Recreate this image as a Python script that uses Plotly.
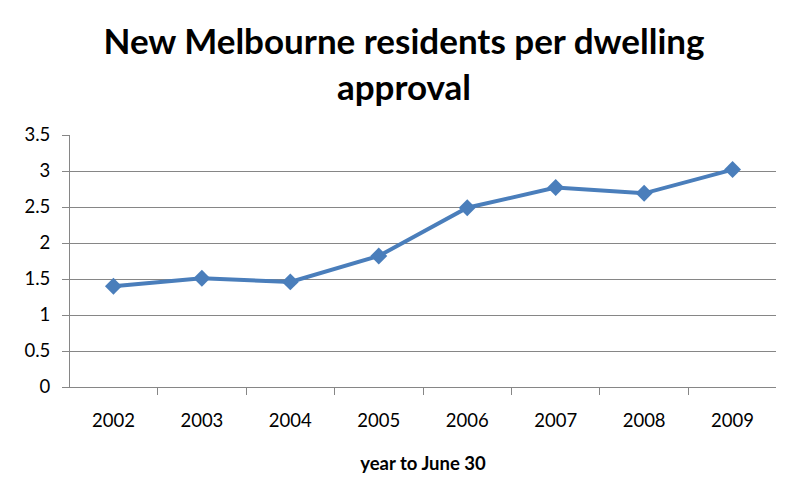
import plotly.graph_objects as go

years = ["2002", "2003", "2004", "2005", "2006", "2007", "2008", "2009"]
residents_per_approval = [1.40, 1.51, 1.46, 1.82, 2.49, 2.77, 2.69, 3.02]
y_ticks = [0, 0.5, 1, 1.5, 2, 2.5, 3, 3.5]
y_tick_labels = ["0", "0.5", "1", "1.5", "2", "2.5", "3", "3.5"]

fig = go.Figure()
fig.add_trace(go.Scatter(
    x=years, y=residents_per_approval, mode="lines+markers",
    line=dict(color="#4a7ebb", width=4),
    marker=dict(symbol="diamond", size=13, color="#4a7ebb"),
    showlegend=False,
))

# page body has an 8px margin, so the figure is sized to fit the window
fig.update_layout(
    width=792, height=493,
    margin=dict(l=62, r=24, t=127, b=114),
    paper_bgcolor="white", plot_bgcolor="white",
    font=dict(family="Lato, Carlito, sans-serif", color="black", size=18),
    title=dict(
        text="<b>New Melbourne residents per dwelling<br>approval</b>",
        x=0.5, xanchor="center", y=1 - 46 / 493, yanchor="top",
        font=dict(size=35, family="Lato, sans-serif", color="black"),
    ),
    xaxis=dict(
        type="category", tickson="boundaries", ticks="outside", ticklen=7,
        tickcolor="#868686", showline=True, linecolor="#868686", linewidth=1,
        showgrid=False, tickfont=dict(size=18.5), ticklabelstandoff=17,
        title=dict(text="<b>year to June 30</b>", font=dict(size=18.5), standoff=26),
    ),
    yaxis=dict(
        range=[0, 3.5], tickvals=y_ticks, ticktext=y_tick_labels,
        ticks="outside", ticklen=7, tickcolor="#868686",
        showline=True, linecolor="#868686", linewidth=1,
        showgrid=True, gridcolor="#868686", gridwidth=1,
        zeroline=False, tickfont=dict(size=18.5), ticklabelstandoff=8,
    ),
)

fig.write_html("out.html")
